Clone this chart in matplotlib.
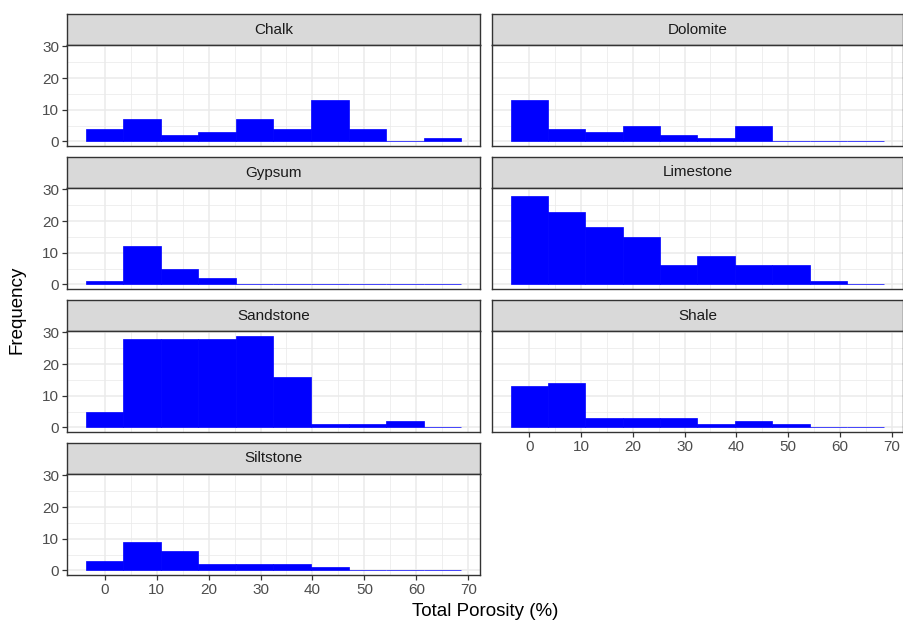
import matplotlib
matplotlib.use("Agg")
from matplotlib import pyplot as plt
import numpy as np

plt.rcParams['font.family'] = ['Liberation Sans', 'DejaVu Sans']

# histogram counts per lithology (10 bins, 0..65 % porosity)
lithologies = ['Chalk', 'Dolomite', 'Gypsum', 'Limestone', 'Sandstone', 'Shale', 'Siltstone']
chalk = [4, 7, 2, 3, 7, 4, 13, 4, 0, 1]
dolomite = [13, 4, 3, 5, 2, 1, 5, 0, 0, 0]
gypsum = [1, 12, 5, 2, 0, 0, 0, 0, 0, 0]
limestone = [28, 23, 18, 15, 6, 9, 6, 6, 1, 0]
sandstone = [5, 28, 28, 28, 29, 16, 1, 1, 2, 0]
shale = [13, 14, 3, 3, 3, 1, 2, 1, 0, 0]
siltstone = [3, 9, 6, 2, 2, 2, 1, 0, 0, 0]
counts = [chalk, dolomite, gypsum, limestone, sandstone, shale, siltstone]

data_min, data_max, nbins = 0.0, 65.0, 10
bw = (data_max - data_min) / (nbins - 1)
centers = data_min + bw * np.arange(nbins)

W, H = 904, 627
fig = plt.figure(figsize=(W / 100, H / 100), dpi=100)

cols = [(67, 480), (492, 903)]
strip_h, panel_h, row_step, top0 = 31, 101, 143, 14

lo, hi = centers[0] - bw / 2, centers[-1] + bw / 2
xpad = (hi - lo) * 0.05
ymax = 29
ypad = ymax * 0.05

def fax(x0, x1, ytop, ybot):
    return fig.add_axes([x0 / W, 1 - ybot / H, (x1 - x0) / W, (ybot - ytop) / H])

for i, name in enumerate(lithologies):
    r, c = divmod(i, 2)
    x0, x1 = cols[c]
    st = top0 + r * row_step
    # strip
    sax = fax(x0, x1, st, st + strip_h)
    sax.set_facecolor('#D9D9D9')
    sax.set_xticks([]); sax.set_yticks([])
    for s in sax.spines.values():
        s.set_color('#333333'); s.set_linewidth(1.0)
    sax.text(0.5, 0.5, name, ha='center', va='center', fontsize=11, color='#1A1A1A',
             transform=sax.transAxes)
    # panel
    ax = fax(x0, x1, st + strip_h, st + strip_h + panel_h)
    ax.set_xlim(lo - xpad, hi + xpad)
    ax.set_ylim(-ypad, ymax + ypad)
    ax.set_xticks(np.arange(0, 71, 10))
    ax.set_xticks(np.arange(5, 71, 10), minor=True)
    ax.set_yticks([0, 10, 20, 30])
    ax.set_yticks([5, 15, 25], minor=True)
    ax.grid(True, which='major', color='#EBEBEB', linewidth=1.1)
    ax.grid(True, which='minor', color='#EBEBEB', linewidth=0.55)
    ax.set_axisbelow(True)
    ax.bar(centers, counts[i], width=bw, color='#0000FF', edgecolor='#0000FF', linewidth=0.5)
    for s in ax.spines.values():
        s.set_color('#333333'); s.set_linewidth(1.0)
    ax.tick_params(which='minor', length=0)
    ax.tick_params(which='major', color='#333333', length=3.5, width=0.9,
                   labelsize=11, labelcolor='#4D4D4D', pad=2)
    show_x = (name in ('Shale', 'Siltstone'))
    show_y = (c == 0)
    if not show_x:
        ax.tick_params(axis='x', length=0, labelbottom=False)
    if not show_y:
        ax.tick_params(axis='y', length=0, labelleft=False)

fig.text(485 / W, 1 - 612 / H, 'Total Porosity (%)', ha='center', va='center',
         fontsize=13.5, color='black')
fig.text(17 / W, 1 - 310 / H, 'Frequency', ha='center', va='center', rotation=90,
         fontsize=13.5, color='black')

fig.savefig('out.png', dpi=100)
